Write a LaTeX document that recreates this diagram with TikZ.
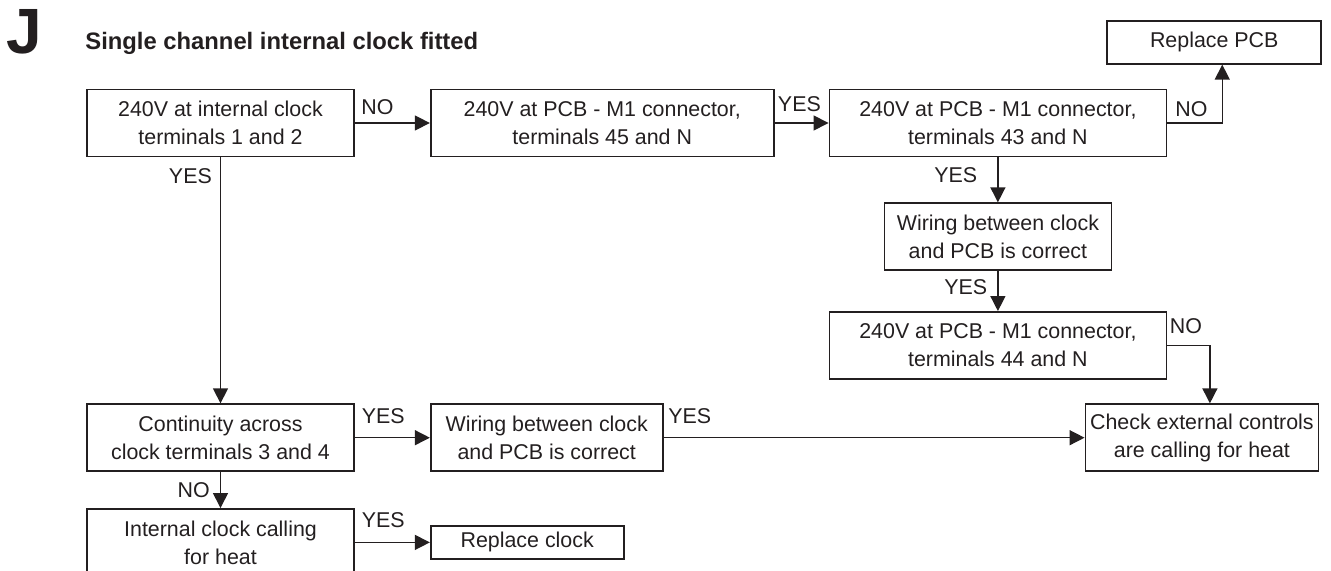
\documentclass[tikz,border=0pt]{standalone}
\usepackage{fontspec}
\setmainfont{Liberation Sans}
\usepackage{xcolor}
\usetikzlibrary{arrows.meta,positioning}
\definecolor{ink}{HTML}{231F20}

\begin{document}
\begin{tikzpicture}[
    x=1pt, y=1pt,
    node distance=20pt and 37.5pt,
    mybox/.style={draw=ink, line width=0.85pt, text=ink, align=center, inner sep=1pt, minimum height=33.5pt, font=\fontsize{10.7}{14}\selectfont},
    myedge/.style={-{Triangle[length=7.5pt,width=7.5pt]}, draw=ink, line width=0.7pt},
    mylabel/.style={text=ink, inner sep=1.5pt, font=\fontsize{10.7}{12}\selectfont}
]
\useasboundingbox (0,0) rectangle (665.5,-285.5);

% heading
\node[anchor=base west, inner sep=0pt, text=ink, font=\bfseries\fontsize{32}{32}\selectfont] (J) at (3,-27) {J};
\node[anchor=base west, inner sep=0pt, text=ink, font=\bfseries\fontsize{11.9}{14}\selectfont] (title) at (42.5,-25) {Single channel internal clock fitted};

% top row
\node[mybox, minimum width=133.5pt] (V12) at (110.25,-61.5) {240V at internal clock\\terminals 1 and 2};
\node[mybox, minimum width=171.5pt] (V45) [right=37.5pt of V12] {240V at PCB - M1 connector,\\terminals 45 and N};
\node[mybox, minimum width=168.5pt] (V43) [right=27pt of V45] {240V at PCB - M1 connector,\\terminals 43 and N};
\node[mybox, minimum width=107pt, minimum height=21.5pt] (PCB) [above=12pt of V43.north east, xshift=23.5pt] {Replace PCB};

% right column
\node[mybox, minimum width=113.5pt] (W2) [below=22.5pt of V43] {Wiring between clock\\and PCB is correct};
\node[mybox, minimum width=168.5pt] (V44) [below=20pt of W2] {240V at PCB - M1 connector,\\terminals 44 and N};

% lower rows
\node[mybox, minimum width=133.5pt] (CONT) [below=123pt of V12] {Continuity across\\clock terminals 3 and 4};
\node[mybox, minimum width=116pt] (W1) [right=37.5pt of CONT] {Wiring between clock\\and PCB is correct};
\node[mybox, minimum width=116.5pt] (EXT) [right=210.5pt of W1] {Check external controls\\are calling for heat};
\node[mybox, minimum width=133.5pt] (CALL) [below=18pt of CONT] {Internal clock calling\\for heat};
\node[mybox, minimum width=96.5pt, minimum height=16.5pt] (CLK) [right=37.5pt of CALL] {Replace clock};

\draw[myedge] (V12) -- node[mylabel, pos=0.3, above=2.5pt] {NO} (V45);
\draw[myedge] (V45) -- node[mylabel, pos=0.46, above=4pt] {YES} (V43);
\draw[myedge] (V43.east) -| node[mylabel, pos=0.22, above=1.5pt] {NO} ([xshift=4pt]PCB.south);
\draw[myedge] (V43) -- node[mylabel, pos=0.39, left=8.5pt] {YES} (W2);
\draw[myedge] (W2) -- node[mylabel, pos=0.41, left=3.5pt] {YES} (V44);
\draw[myedge] (V44.east) -| node[mylabel, pos=0.22, above=4pt] {NO} ([xshift=4pt]EXT.north);
\draw[myedge] (V12) -- node[mylabel, pos=0.075, left=2.5pt] {YES} (CONT);
\draw[myedge] (CONT) -- node[mylabel, pos=0.38, above=5pt] {YES} (W1);
\draw[myedge] (W1) -- node[mylabel, pos=0.062, above=5pt] {YES} (EXT);
\draw[myedge] (CONT) -- node[mylabel, pos=0.51, left=3.5pt] {NO} (CALL);
\draw[myedge] (CALL) -- node[mylabel, pos=0.38, above=5.5pt] {YES} (CLK);
\end{tikzpicture}
\end{document}
